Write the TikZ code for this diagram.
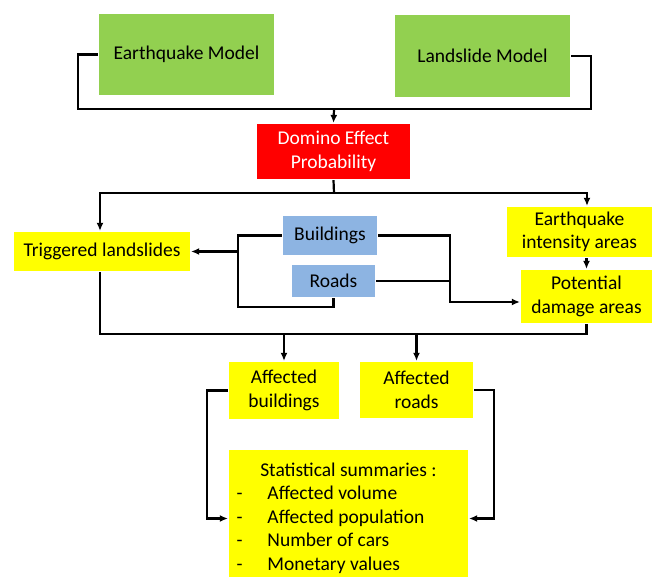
\documentclass[tikz,border=0pt]{standalone}
\usepackage{fontspec}
\setmainfont{Carlito}
\usepackage{tikz}
\usetikzlibrary{arrows.meta, positioning, calc}
\definecolor{ModelGreen}{HTML}{92D050}
\definecolor{DominoRed}{HTML}{FF0000}
\definecolor{AreaYellow}{HTML}{FFFF00}
\definecolor{AssetBlue}{HTML}{8DB4E2}

\begin{document}
\begin{tikzpicture}[x=1pt, y=-1pt, >={Latex[length=8pt,width=7pt]}, line width=2.2pt,
  box/.style={inner sep=0pt, align=center, font=\fontsize{19.5}{23.5}\selectfont},
  model/.style={box, fill=ModelGreen},
  result/.style={box, fill=AreaYellow},
  asset/.style={box, fill=AssetBlue}]
  \useasboundingbox (0,0) rectangle (654,577);

  \node[model, minimum width=175pt, minimum height=81pt] (eqmodel) at (186.5,54.5) {Earthquake Model};
  \node[model, minimum width=175pt, minimum height=82pt] (lsmodel) at (482.5,56) {Landslide Model};
  \node[box, fill=DominoRed, text=white, minimum width=153pt, minimum height=55pt]
        (domino) at (333.5,151.5) {Domino Effect\\Probability};
  \node[result, minimum width=176pt, minimum height=39pt] (trig) at (102,251.5) {Triggered landslides};
  \node[result, minimum width=145pt, minimum height=50pt] (eqint) at (579.5,232) {Earthquake\\intensity areas};
  \node[result, minimum width=131pt, minimum height=53pt] (pda) at (586.5,296.5) {Potential\\damage areas};
  \node[asset, minimum width=94pt, minimum height=39pt] (bldg) at (330,235.5) {Buildings};
  \node[asset, minimum width=83pt, minimum height=32pt] (roads) at (333.5,281) {Roads};
  \node[result, minimum width=110pt, minimum height=57pt] (affb) at (284,390.5) {Affected\\buildings};
  \node[result, minimum width=113pt, minimum height=56pt] (affr) at (416.5,390) {Affected\\roads};
  \node[result, minimum width=239pt, minimum height=137pt] (stats) at (348.5,518.5)
        {\begin{tabular}{@{}p{19pt}p{193pt}@{}}
           \multicolumn{2}{@{}c@{}}{Statistical summaries :}\\
           - & Affected volume\\
           - & Affected population\\
           - & Number of cars\\
           - & Monetary values
         \end{tabular}};

  % models into domino effect
  \coordinate (join) at (334,109);
  \draw (eqmodel.west) -- ++(-20,0) |- (join) -| ([xshift=20pt]lsmodel.east) -- (lsmodel.east);
  \draw[->] (join) -- (domino.north);

  % domino effect to hazard areas
  \coordinate (split) at (334,193);
  \draw (domino.south) -- (split);
  \draw[->] (split) -| ([xshift=-2pt]trig.north);
  \draw[->] (split) -| ([xshift=7.5pt]eqint.north);
  \draw[->] (eqint.south -| pda.north) -- (pda.north);

  % exposed elements
  \draw (bldg.west) -- ++(-44,0) coordinate (tapl) |- ([yshift=-9pt]roads.south) -- (roads.south);
  \draw[->] (tapl |- trig.east) -- (trig.east);
  \draw[->] (bldg.east) -- ++(72,0) coordinate (tapr) |- ([yshift=-5.5pt]pda.west);
  \draw (roads.east) -- (roads.east -| tapr);

  % overlay to affected assets
  \coordinate (low) at (334,334);
  \draw ([xshift=-2pt]trig.south) -- ([xshift=-2pt]trig.south |- low) -| (pda.south);
  \draw[->] (affb.north |- low) -- (affb.north);
  \draw[->] (affr.north |- low) -- (affr.north);

  \draw[->] (affb.west) -- ++(-21,0) |- (stats.west);
  \draw[->] (affr.east) -- ++(20,0) |- (stats.east);
\end{tikzpicture}
\end{document}
